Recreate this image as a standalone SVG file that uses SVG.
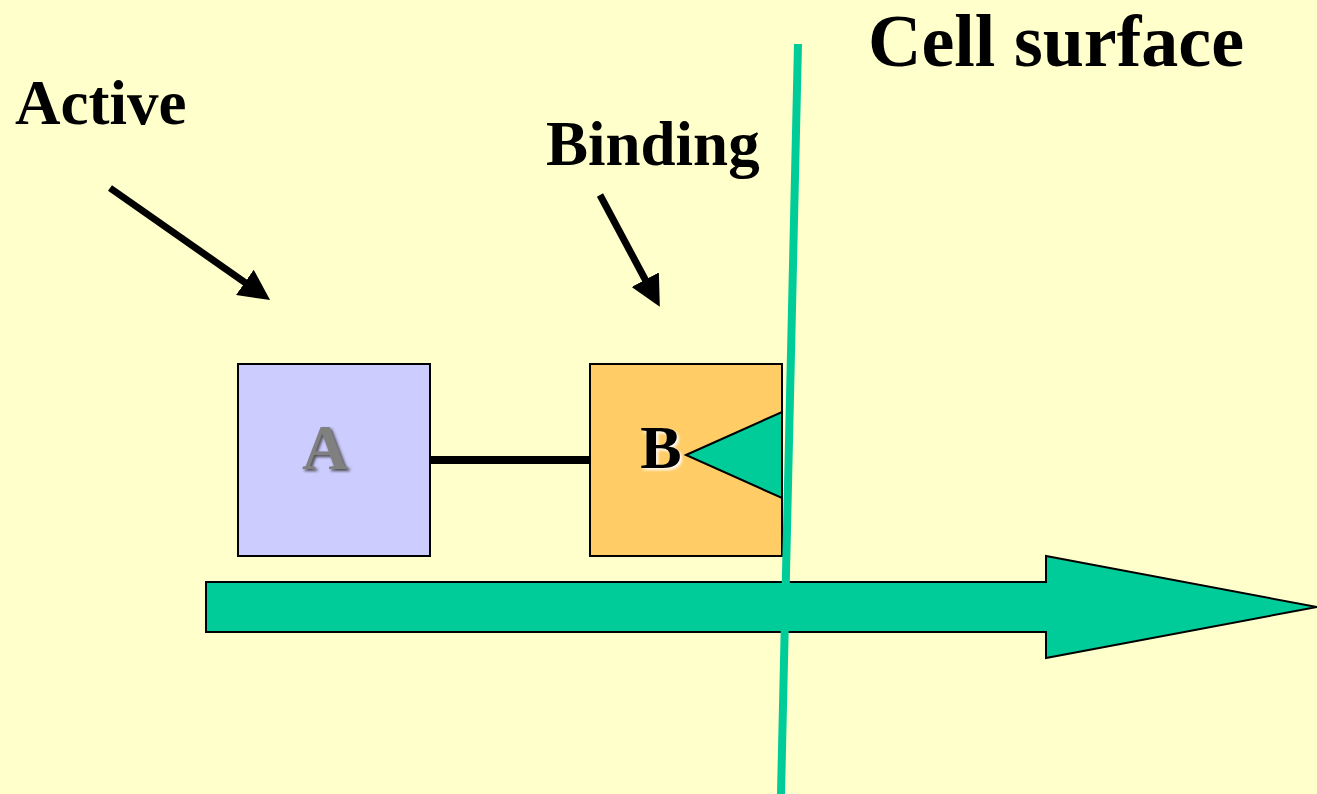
<svg xmlns="http://www.w3.org/2000/svg" width="1317" height="794" viewBox="0 0 1317 794">
<defs>
<style>
.lbl{font-family:"Liberation Serif","Times New Roman",serif;font-weight:bold;fill:#000}
.box{stroke:#000;stroke-width:2}
.ptr{stroke:#000;stroke-width:7;fill:none}
</style>
<marker id="ah" viewBox="0 0 10 10" refX="6" refY="5" markerWidth="4.4" markerHeight="4.4" orient="auto" markerUnits="strokeWidth">
<path d="M0,0 L10,5 L0,10 z" fill="#000"/>
</marker>
<filter id="blur" x="-20%" y="-20%" width="140%" height="140%"><feGaussianBlur stdDeviation="1.5"/></filter>
</defs>
<rect width="1317" height="794" fill="#FFFFCC"/>
<g id="flow-arrow">
<polygon points="206,582 1046,582 1046,556 1317,607 1046,658 1046,632 206,632" fill="#00CC99" stroke="#000" stroke-width="2"/>
</g>
<g id="node-A">
<rect class="box" x="238" y="364" width="192" height="192" fill="#CCCCFF"/>
<text x="327" y="471" text-anchor="middle" class="lbl" font-size="64" style="fill:#444" filter="url(#blur)">A</text>
<text x="325" y="469" text-anchor="middle" class="lbl" font-size="64" style="fill:#808080">A</text>
</g>
<g id="node-B">
<rect class="box" x="590" y="364" width="192" height="192" fill="#FFCC66"/>
<polygon points="686,455 782,412 782,498" fill="#00CC99" stroke="#000" stroke-width="2"/>
<text x="663" y="470" text-anchor="middle" class="lbl" font-size="62" style="fill:#fff" filter="url(#blur)">B</text>
<text x="661" y="468" text-anchor="middle" class="lbl" font-size="62">B</text>
</g>
<g id="cell-surface">
<line x1="798" y1="44" x2="781" y2="794" stroke="#00CC99" stroke-width="8"/>
<text x="868" y="66" class="lbl" font-size="74">Cell surface</text>
</g>
<g id="label-active">
<text x="15" y="124" class="lbl" font-size="63">Active</text>
</g>
<g id="label-binding">
<text x="546" y="165" class="lbl" font-size="63">Binding</text>
</g>
<g id="connectors">
<line x1="430" y1="460" x2="590" y2="460" stroke="#000" stroke-width="8"/>
<line class="ptr" x1="110" y1="188" x2="260" y2="293" marker-end="url(#ah)"/>
<line class="ptr" x1="600" y1="195" x2="654" y2="296" marker-end="url(#ah)"/>
</g>
</svg>
